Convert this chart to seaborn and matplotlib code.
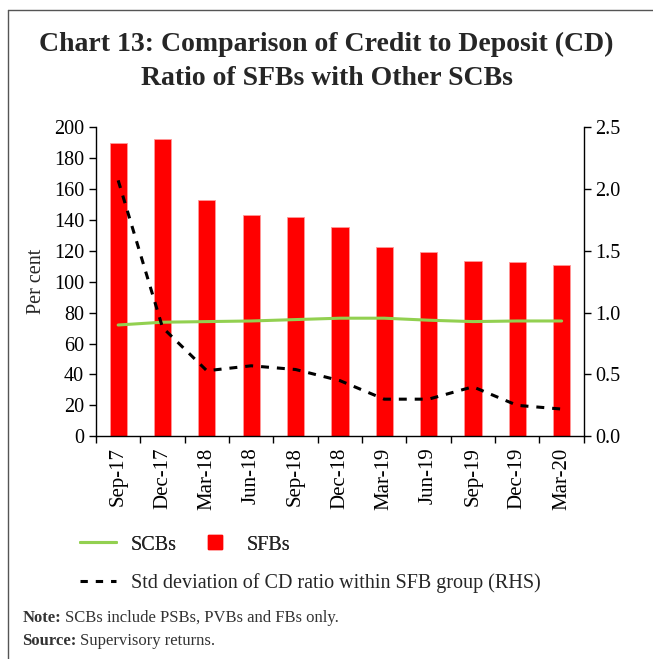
import numpy as np
import matplotlib
matplotlib.use("Agg")
import matplotlib.pyplot as plt
import seaborn as sns
from matplotlib.lines import Line2D

# data
quarters = ['Sep-17', 'Dec-17', 'Mar-18', 'Jun-18', 'Sep-18', 'Dec-18',
            'Mar-19', 'Jun-19', 'Sep-19', 'Dec-19', 'Mar-20']
sfb_cd = [190.0, 192.5, 152.6, 143.3, 142.0, 135.1, 122.3, 119.5, 113.3, 112.6, 110.7]
scb_cd = [72.0, 73.8, 74.2, 74.6, 75.5, 76.4, 76.4, 75.1, 74.2, 74.6, 74.6]
sfb_std = [2.07, 0.88, 0.53, 0.57, 0.54, 0.45, 0.30, 0.30, 0.40, 0.25, 0.22]

sns.set_style("ticks")
plt.rcParams['font.family'] = ['Liberation Serif', 'DejaVu Serif']

fig = plt.figure(figsize=(6.53, 6.59), dpi=100)
ax = fig.add_axes([0.147, 0.338, 0.747, 0.469])

pos = np.arange(len(quarters))

sns.barplot(x=pos, y=sfb_cd, color='#FF0000', width=0.39, ax=ax,
            edgecolor='#FF9999', linewidth=0.6, saturation=1, native_scale=True)
sns.lineplot(x=pos, y=scb_cd, color='#92D050', linewidth=2.2, ax=ax)

ax2 = ax.twinx()
sns.lineplot(x=pos, y=sfb_std, color='black', linewidth=2.2, ax=ax2)
ax2.lines[0].set_dashes([2.6, 2.6])

ax.set_xlim(-0.5, len(quarters) - 0.5)
ax.set_ylim(0, 200)
ax.set_yticks(range(0, 201, 20))
ax2.set_ylim(0, 2.5)
ax2.set_yticks(np.arange(0, 2.51, 0.5))
ax2.set_yticklabels([f'{v:.1f}' for v in np.arange(0, 2.51, 0.5)])

ax.set_xticks(pos)
ax.set_xticklabels(quarters, rotation=90, fontsize=15)
ax.set_xticks(np.arange(-0.5, len(quarters), 1), minor=True)
ax.tick_params(axis='x', which='major', length=0, pad=8)
ax.tick_params(axis='x', which='minor', length=5, width=1, color='black')
ax.tick_params(axis='y', length=5, width=1, color='black')
ax2.tick_params(axis='y', length=5, width=1, color='black')
for a in (ax, ax2):
    a.tick_params(axis='y', labelsize=14.5)
    a.tick_params(labelcolor='black')
    a.set_xlabel('')
    for s in a.spines.values():
        s.set_color('black')
        s.set_linewidth(1)
    a.spines['top'].set_visible(False)
ax.spines['right'].set_visible(False)
ax2.spines['left'].set_visible(False)
ax2.spines['bottom'].set_visible(False)
ax.set_ylabel('Per cent', fontsize=14.5, labelpad=6)

# title
fig.text(0.5, 0.907, 'Chart 13: Comparison of Credit to Deposit (CD)\nRatio of SFBs with Other SCBs',
         ha='center', va='center', fontsize=20, fontweight='bold', linespacing=1.45)

# legends
leg1 = fig.legend(handles=[Line2D([], [], color='#92D050', lw=2.2),
                           Line2D([], [], color='#FF0000', marker='s', markersize=10,
                                  linestyle='none')],
                  labels=['SCBs', 'SFBs'], ncol=2, frameon=False, fontsize=14.5,
                  loc='center left', bbox_to_anchor=(0.095, 0.173),
                  handlelength=1.8, handletextpad=0.7, columnspacing=1.0)
leg2 = fig.legend(handles=[Line2D([], [], color='black', lw=2.2, dashes=[2.4, 2.6])],
                  labels=['Std deviation of CD ratio within SFB group (RHS)'],
                  frameon=False, fontsize=14.5, loc='center left',
                  bbox_to_anchor=(0.095, 0.115), handlelength=1.8, handletextpad=0.7)
fig.add_artist(leg1)

# notes
note_col = '#333333'
lab = fig.text(0.034, 0.062, 'Note:', fontsize=12, fontweight='bold', va='center', color=note_col)
lab2 = fig.text(0.034, 0.027, 'Source:', fontsize=12, fontweight='bold', va='center', color=note_col)
r = fig.canvas.get_renderer()
x1 = fig.transFigure.inverted().transform(lab.get_window_extent(r))[1][0]
x2 = fig.transFigure.inverted().transform(lab2.get_window_extent(r))[1][0]
fig.text(x1 + 0.006, 0.062, 'SCBs include PSBs, PVBs and FBs only.', fontsize=12, va='center', color=note_col)
fig.text(x2 + 0.006, 0.027, 'Supervisory returns.', fontsize=12, va='center', color=note_col)

# frame lines at left and top
fig.add_artist(Line2D([0.012, 0.012], [0, 0.985], color='#555555', lw=1, transform=fig.transFigure))
fig.add_artist(Line2D([0.012, 1.0], [0.985, 0.985], color='#555555', lw=1, transform=fig.transFigure))

fig.savefig('out.png', dpi=100)
